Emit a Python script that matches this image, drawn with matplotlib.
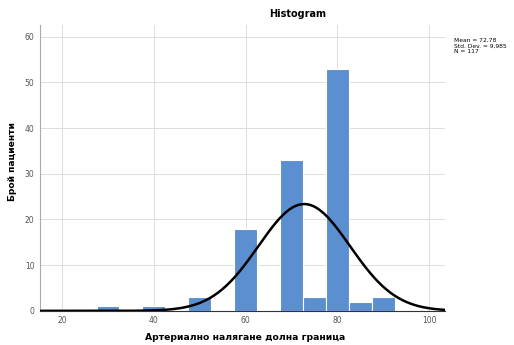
import numpy as np
import matplotlib.pyplot as plt

# bin centres (width 5) and patient counts
bin_centers = [30, 40, 50, 60, 70, 75, 80, 85, 90]
counts = [1, 1, 3, 18, 33, 3, 53, 2, 3]
bin_width = 5

mean = 72.78
std = 9.985
n = 117

fig = plt.figure(figsize=(5.14, 3.45), dpi=100)
ax = fig.add_axes([0.078, 0.099, 0.788, 0.829])

ax.bar(bin_centers, counts, width=bin_width, color='#5b8fd0',
       edgecolor='white', linewidth=0.8, zorder=2)

# fitted normal curve
x = np.linspace(15, 103.5, 400)
y = n * bin_width / (std * np.sqrt(2 * np.pi)) * np.exp(-0.5 * ((x - mean) / std) ** 2)
ax.plot(x, y, color='black', linewidth=1.8, zorder=3)

ax.set_xlim(15.2, 103.5)
ax.set_ylim(0, 62.6)
ax.set_xticks([20, 40, 60, 80, 100])
ax.set_yticks([0, 10, 20, 30, 40, 50, 60])
ax.grid(True, color='#dddddd', linewidth=0.7, zorder=0)
ax.set_axisbelow(True)
ax.tick_params(labelsize=5.5, colors='#555555', length=0, pad=4)
for s in ['top', 'right']:
    ax.spines[s].set_visible(False)
ax.spines['left'].set_color('#aaaaaa')
ax.spines['bottom'].set_color('#333333')

fig.text(298 / 514, 1 - 14 / 345, 'Histogram', ha='center', va='center',
         fontsize=7, fontweight='bold')
fig.text(245 / 514, 1 - 338 / 345, 'Артериално налягане долна граница',
         ha='center', va='center', fontsize=6.7, fontweight='bold')
fig.text(13 / 514, 1 - 162 / 345, 'Брой пациенти', ha='center', va='center',
         rotation=90, fontsize=6.6, fontweight='bold')
stats = 'Mean = 72,78\nStd. Dev. = 9,985\nN = 117'
fig.text(454 / 514, 1 - 38 / 345, stats, fontsize=4.3, va='top', ha='left',
         linespacing=1.1)

fig.savefig('out.png', dpi=100)
